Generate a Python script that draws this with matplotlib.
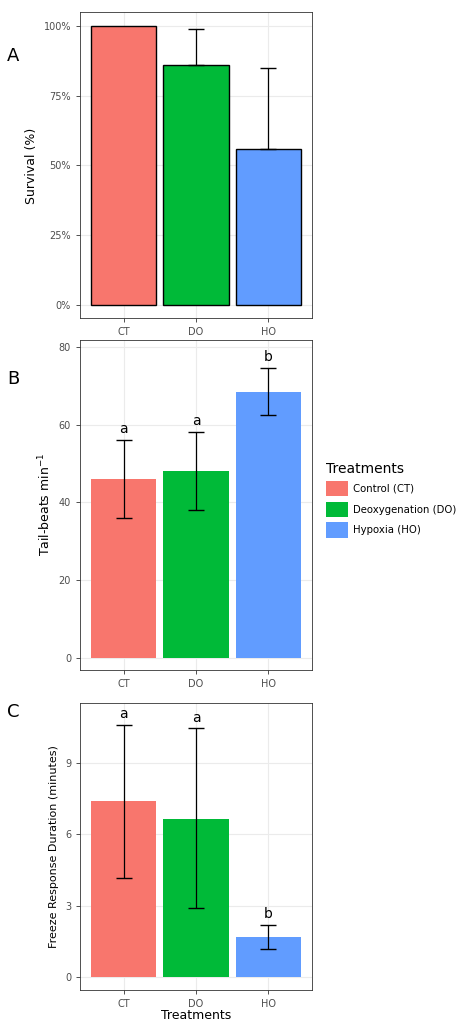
import matplotlib
matplotlib.use("Agg")
import matplotlib.pyplot as plt
from matplotlib.patches import Patch
from matplotlib.ticker import FuncFormatter

cats = ["CT", "DO", "HO"]
colors = ["#F8766D", "#00BA38", "#619CFF"]
legend_labels = ["Control (CT)", "Deoxygenation (DO)", "Hypoxia (HO)"]

surv = [1.00, 0.86, 0.56]
surv_up = [1.00, 0.99, 0.85]

tail = [46.0, 48.0, 68.5]
tail_lo = [36.0, 38.0, 62.5]
tail_hi = [56.0, 58.0, 74.5]
tail_let = ["a", "a", "b"]

freeze = [7.4, 6.65, 1.7]
freeze_lo = [4.15, 2.9, 1.2]
freeze_hi = [10.6, 10.45, 2.2]
freeze_let = ["a", "a", "b"]

fig = plt.figure(figsize=(4.74, 10.24), dpi=100)
L, W = 0.169, 0.489

def style(ax):
    ax.set_facecolor("white")
    ax.grid(True, color="#EBEBEB", lw=0.8)
    ax.set_axisbelow(True)
    for s in ax.spines.values():
        s.set_color("#333333"); s.set_linewidth(0.6)
    ax.tick_params(colors="#333333", labelsize=7, length=3, width=0.6)
    for t in ax.get_xticklabels() + ax.get_yticklabels():
        t.set_color("#4D4D4D")

x = range(3)
axA = fig.add_axes([L, 0.689, W, 0.299])
axA.bar(x, surv, width=0.9, color=colors, edgecolor="black", lw=1)
axA.errorbar(x[1:], surv[1:], yerr=[[0, 0], [surv_up[i]-surv[i] for i in (1, 2)]],
             fmt="none", ecolor="black", capsize=6, lw=0.9)
axA.set_ylim(-0.05, 1.05)
axA.set_xlim(-0.6, 2.6)
axA.set_yticks([0, 0.25, 0.5, 0.75, 1.0])
axA.yaxis.set_major_formatter(FuncFormatter(lambda v, p: f"{v*100:.0f}%"))
axA.set_xticks(list(x)); axA.set_xticklabels(cats)
axA.set_ylabel("Survival (%)", fontsize=9)
style(axA)

axB = fig.add_axes([L, 0.346, W, 0.322])
axB.bar(x, tail, width=0.9, color=colors)
axB.errorbar(x, tail, yerr=[[tail[i]-tail_lo[i] for i in x], [tail_hi[i]-tail[i] for i in x]],
             fmt="none", ecolor="black", capsize=6, lw=0.9)
for i in x:
    axB.text(i, tail_hi[i] + 1.2, tail_let[i], ha="center", va="bottom", fontsize=10)
axB.set_ylim(-3.1, 81.8)
axB.set_xlim(-0.6, 2.6)
axB.set_yticks([0, 20, 40, 60, 80])
axB.set_xticks(list(x)); axB.set_xticklabels(cats)
axB.set_ylabel("Tail-beats min$^{-1}$", fontsize=9)
style(axB)

axC = fig.add_axes([L, 0.033, W, 0.280])
axC.bar(x, freeze, width=0.9, color=colors)
axC.errorbar(x, freeze, yerr=[[freeze[i]-freeze_lo[i] for i in x], [freeze_hi[i]-freeze[i] for i in x]],
             fmt="none", ecolor="black", capsize=6, lw=0.9)
for i in x:
    axC.text(i, freeze_hi[i] + 0.15, freeze_let[i], ha="center", va="bottom", fontsize=10)
axC.set_ylim(-0.55, 11.5)
axC.set_xlim(-0.6, 2.6)
axC.set_yticks([0, 3, 6, 9])
axC.set_xticks(list(x)); axC.set_xticklabels(cats)
axC.set_ylabel("Freeze Response Duration (minutes)", fontsize=8)
axC.set_xlabel("Treatments", fontsize=9, labelpad=0)
style(axC)

for lab, y in [("A", 0.94), ("B", 0.625), ("C", 0.3)]:
    fig.text(0.015, y, lab, fontsize=13)

handles = [Patch(facecolor=c, label=l) for c, l in zip(colors, legend_labels)]
fig.legend(handles=handles, title="Treatments", loc="upper left",
           bbox_to_anchor=(0.675, 0.555), frameon=False, fontsize=7.3,
           title_fontsize=10, handlelength=2.2, handleheight=2.0,
           handletextpad=0.5, alignment="left", borderaxespad=0.2)
fig.savefig("out.png", dpi=100, facecolor="white")
